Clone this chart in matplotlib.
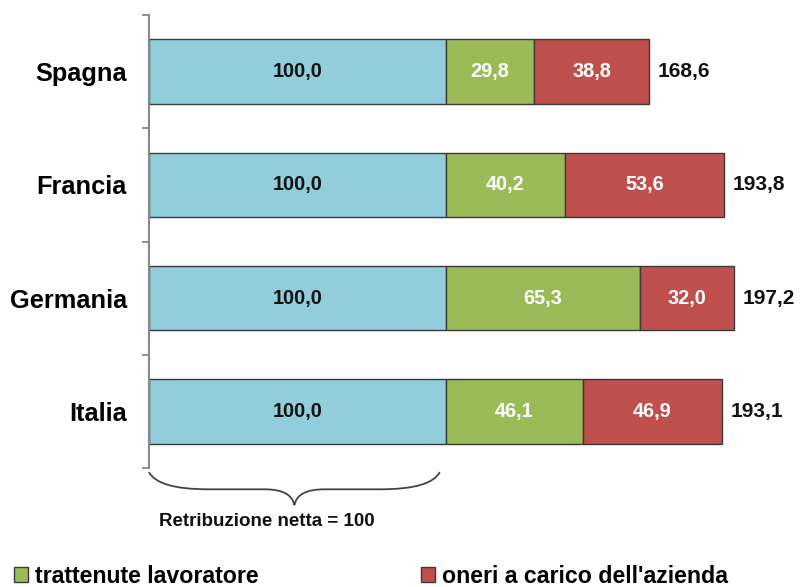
import matplotlib.pyplot as plt
import matplotlib.transforms as mtransforms
from matplotlib.path import Path
from matplotlib.patches import PathPatch, Patch

paesi = ['Spagna', 'Francia', 'Germania', 'Italia']
netta = [100.0, 100.0, 100.0, 100.0]
trattenute = [29.8, 40.2, 65.3, 46.1]
oneri = [38.8, 53.6, 32.0, 46.9]
totale = [168.6, 193.8, 197.2, 193.1]

c_netta = '#92CDDC'
c_tratt = '#9BBB59'
c_oneri = '#C0504D'
bordo = '#3a3a3a'

plt.rcParams['font.family'] = ['Liberation Sans', 'DejaVu Sans']
plt.rcParams['font.weight'] = 'bold'

def fmt(v):
    return ('%.1f' % v).replace('.', ',')

fig = plt.figure(figsize=(8.04, 5.87), dpi=100)
ax = fig.add_axes([0.1853, 0.2027, 0.812, 0.7717])

y = list(range(len(paesi)))
h = 0.57
left2 = [a for a in netta]
left3 = [a + b for a, b in zip(netta, trattenute)]
ax.barh(y, netta, height=h, color=c_netta, edgecolor=bordo, linewidth=1)
ax.barh(y, trattenute, left=left2, height=h, color=c_tratt, edgecolor=bordo, linewidth=1)
ax.barh(y, oneri, left=left3, height=h, color=c_oneri, edgecolor=bordo, linewidth=1)

for i in y:
    ax.text(netta[i] / 2, i, fmt(netta[i]), ha='center', va='center',
            fontsize=14.3, fontweight='bold', color='#111111')
    ax.text(left2[i] + trattenute[i] / 2, i, fmt(trattenute[i]), ha='center', va='center',
            fontsize=14.3, fontweight='bold', color='white')
    ax.text(left3[i] + oneri[i] / 2, i, fmt(oneri[i]), ha='center', va='center',
            fontsize=14.3, fontweight='bold', color='white')
    ax.annotate(fmt(totale[i]), (totale[i], i), xytext=(6, 0), textcoords='offset points',
                ha='left', va='center', fontsize=15, fontweight='bold', color='#111111')

ax.set_xlim(0, 220)
ax.set_ylim(len(paesi) - 0.5, -0.5)
ax.set_yticks(y)
ax.set_yticklabels(paesi, fontsize=18.3, fontweight='bold')
ax.set_yticks([k - 0.5 for k in range(len(paesi) + 1)], minor=True)
ax.tick_params(axis='y', which='major', length=0, pad=16)
ax.tick_params(axis='y', which='minor', length=5, width=1.3, color='#888888')
ax.set_xticks([])
for s in ['top', 'right', 'bottom']:
    ax.spines[s].set_visible(False)
ax.spines['left'].set_color('#888888')
ax.spines['left'].set_linewidth(1.5)

# parentesi graffa sotto la retribuzione netta
tr = mtransforms.blended_transform_factory(ax.transData, ax.transAxes)
x0, x1 = 0, 98
xm = (x0 + x1) / 2
top, mid, bot = -0.009, -0.047, -0.082
verts = [(x0, top), (x0 + 3, mid), (x0 + 20, mid),
         (xm - 10, mid),
         (xm - 1, mid), (xm, bot),
         (xm + 1, mid), (xm + 10, mid),
         (x1 - 20, mid),
         (x1 - 3, mid), (x1, top)]
codes = [Path.MOVETO, Path.CURVE3, Path.CURVE3,
         Path.LINETO,
         Path.CURVE3, Path.CURVE3,
         Path.CURVE3, Path.CURVE3,
         Path.LINETO,
         Path.CURVE3, Path.CURVE3]
ax.add_patch(PathPatch(Path(verts, codes), transform=tr, fill=False,
                       edgecolor='#444444', linewidth=1.3, clip_on=False))
ax.text(39.7, -0.119, 'Retribuzione netta = 100', transform=tr, ha='center', va='center',
        fontsize=13.5, fontweight='bold', color='#111111')

handles = [Patch(facecolor=c_tratt, edgecolor=bordo, linewidth=1),
           Patch(facecolor=c_oneri, edgecolor=bordo, linewidth=1)]
fig.legend(handles, ['trattenute lavoratore', "oneri a carico dell'azienda"],
           loc='center left', bbox_to_anchor=(0.009, 0.018), ncol=2, frameon=False,
           prop={'size': 16.7, 'weight': 'bold'}, handlelength=0.6, handleheight=0.6,
           handletextpad=0.3, columnspacing=7.0, borderaxespad=0, borderpad=0.3)

fig.savefig('out.png', dpi=100)
